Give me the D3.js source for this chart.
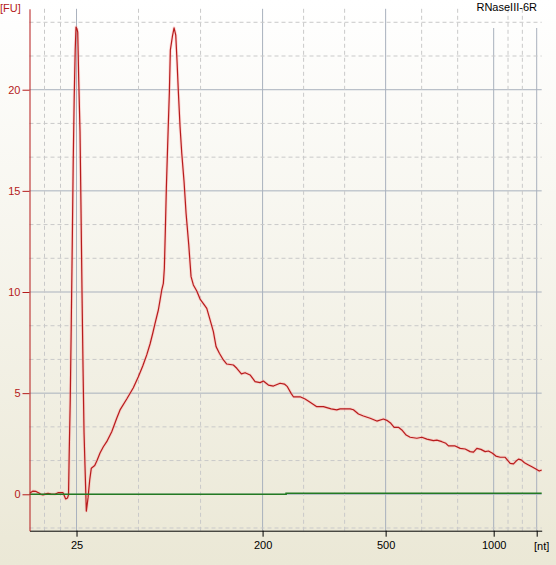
<!DOCTYPE html>
<html>
<head>
<meta charset="utf-8">
<script src="https://cdn.jsdelivr.net/npm/d3@7"></script>
<style>
    body { margin: 0; overflow: hidden; }
    svg { display: block; }
    text { font-family: "Liberation Sans", Arial, sans-serif; font-size: 11px; }
</style>
</head>
<body>
<svg id="chart"></svg>
<script>
// ladder peaks (migration time in s) and their sizes in nt
const ladderStart = 19.7;
const ladderTimes = [29.3, 66.5, 91.1, 112.7, 121.3];
const ladderSizes = [25, 200, 500, 1000, 2000];
const tickLabels = ['25', '200', '500', '1000', ''];
const fuTicks = [0, 5, 10, 15, 20];

// sample trace: [time s, FU]
const sampleTrace = [
    [20.0, 0.06], [20.6, 0.16], [21.2, 0.14], [21.8, 0.06], [22.2, -0.01], [22.6, -0.03],
    [23.0, 0.01], [23.6, 0.05], [24.2, 0.01], [25.0, 0.0], [25.6, 0.08], [26.6, 0.08],
    [27.14, -0.23], [27.5, -0.18], [27.7, -0.03], [27.74, 0.56], [27.84, 2.04], [28.04, 4.56],
    [28.24, 8.22], [28.44, 12.18], [28.64, 16.43], [28.84, 19.64], [29.04, 21.96], [29.2, 23.1],
    [29.4, 23.0], [29.54, 22.85], [29.74, 20.5], [30.0, 17.93], [30.2, 14.05], [30.4, 9.95],
    [30.6, 6.29], [30.8, 3.08], [31.0, 1.35], [31.14, 0.2], [31.26, -0.83], [31.4, -0.58],
    [31.6, -0.18], [31.94, 0.71], [32.26, 1.29], [32.94, 1.42], [33.4, 1.67], [34.0, 2.04],
    [34.66, 2.35], [35.34, 2.6], [36.34, 3.09], [37.34, 3.76], [38.0, 4.17], [39.34, 4.71],
    [40.66, 5.27], [41.66, 5.81], [42.54, 6.34], [43.34, 6.89], [44.0, 7.43], [44.54, 7.96],
    [45.0, 8.45], [45.66, 9.11], [46.0, 9.6], [46.34, 10.1], [46.66, 10.43], [46.86, 11.17],
    [47.06, 13.06], [47.26, 15.13], [47.46, 16.77], [47.66, 18.34], [47.86, 19.85], [48.06, 21.96],
    [48.46, 22.62], [48.8, 23.06], [49.14, 22.7], [49.4, 21.38], [49.66, 19.9], [50.0, 18.17],
    [50.34, 16.86], [50.8, 15.45], [51.2, 13.89], [51.74, 12.32], [52.2, 10.76], [52.66, 10.35],
    [53.34, 10.05], [54.0, 9.65], [54.66, 9.43], [55.34, 9.19], [56.0, 8.62], [56.66, 8.04],
    [57.2, 7.3], [57.86, 6.97], [58.66, 6.64], [59.34, 6.44], [60.66, 6.39], [61.34, 6.23],
    [62.26, 5.95], [63.0, 6.01], [64.0, 5.9], [65.0, 5.57], [66.0, 5.52], [66.66, 5.6],
    [67.66, 5.4], [68.66, 5.35], [70.0, 5.49], [70.86, 5.45], [71.46, 5.32], [72.2, 4.99],
    [72.66, 4.82], [74.0, 4.82], [75.0, 4.71], [76.0, 4.55], [77.34, 4.33], [78.66, 4.33],
    [80.2, 4.22], [81.34, 4.17], [82.0, 4.22], [84.0, 4.22], [84.66, 4.18], [85.66, 3.97],
    [86.66, 3.87], [88.0, 3.76], [89.34, 3.62], [90.66, 3.72], [91.46, 3.64], [92.14, 3.51],
    [92.8, 3.31], [93.66, 3.31], [94.34, 3.18], [95.2, 2.93], [96.0, 2.82], [97.34, 2.77],
    [98.34, 2.82], [99.34, 2.73], [100.66, 2.65], [101.34, 2.68], [102.34, 2.6], [103.14, 2.52],
    [103.66, 2.39], [105.0, 2.39], [106.0, 2.27], [107.0, 2.24], [108.0, 2.11], [108.66, 2.08],
    [109.34, 2.27], [110.14, 2.22], [111.0, 2.11], [111.66, 2.14], [112.46, 2.03], [113.14, 1.89],
    [114.0, 1.83], [115.0, 1.83], [115.54, 1.66], [116.0, 1.53], [116.66, 1.5], [117.14, 1.63],
    [117.66, 1.74], [118.2, 1.7], [118.86, 1.56], [119.66, 1.45], [120.34, 1.36], [121.14, 1.25],
    [121.8, 1.15], [122.3, 1.2]
];

// baseline trace
const baselineTimes = [19.9, 71.2, 71.2, 122.3];
const baselineFU = [0, 0, 0.05, 0.05];

const sampleName = 'RNaseIII-6R';

const width = 556;
const height = 565;
const plot = {left: 29.5, right: 541.7, top: 8.8, bottom: 530.7};
const axisRed = '#b51a1a';

const svg = d3.select('#chart')
    .attr('width', width)
    .attr('height', height);

const grad = svg.append('defs')
    .append('linearGradient')
    .attr('id', 'bg')
    .attr('gradientUnits', 'userSpaceOnUse')
    .attr('x1', 0).attr('y1', 0)
    .attr('x2', 0).attr('y2', height);
grad.append('stop').attr('offset', 0).attr('stop-color', '#ffffff');
grad.append('stop').attr('offset', 1).attr('stop-color', '#ebe8d6');

svg.append('rect')
    .attr('width', width)
    .attr('height', height)
    .attr('fill', 'url(#bg)');

const x = d3.scaleLinear()
    .domain([19.9, 122.3])
    .range([plot.left, plot.right]);
const y = d3.scaleLinear()
    .domain([-1.8, 24])
    .range([plot.bottom, plot.top]);

// minor grid positions: thirds between ladder peaks, 5/3 FU steps
const bounds = [ladderStart].concat(ladderTimes);
const minorTimes = [];
for (let i = 1; i < bounds.length; i++) {
    const a = bounds[i - 1], b = bounds[i];
    minorTimes.push(a + (b - a) / 3, a + 2 * (b - a) / 3);
}
const minorFU = d3.range(-1, 15).map(k => k * 5 / 3).filter((d, i) => i % 3 !== 1);

const grid = svg.append('g');

// solid grid
grid.selectAll('.hmajor')
    .data(fuTicks)
    .enter()
    .append('line')
    .attr('x1', plot.left).attr('x2', plot.right)
    .attr('y1', d => y(d)).attr('y2', d => y(d))
    .attr('stroke', '#a9b1bd');

grid.selectAll('.vmajor')
    .data(ladderTimes)
    .enter()
    .append('line')
    .attr('x1', d => x(d)).attr('x2', d => x(d))
    .attr('y1', plot.top).attr('y2', plot.bottom)
    .attr('stroke', '#a9b1bd');

// box behind the sample name hides the solid lines
svg.append('rect')
    .attr('x', 470)
    .attr('y', 0)
    .attr('width', plot.right - 470)
    .attr('height', 28)
    .attr('fill', 'url(#bg)');

// dashed grid
grid.raise();
const dashed = svg.append('g')
    .attr('stroke', '#c9c9c9')
    .attr('stroke-dasharray', '4,3');

dashed.selectAll('line.h')
    .data(minorFU)
    .enter()
    .append('line')
    .attr('x1', plot.left).attr('x2', plot.right)
    .attr('y1', d => y(d)).attr('y2', d => y(d));

dashed.selectAll('line.v')
    .data(minorTimes)
    .enter()
    .append('line')
    .attr('x1', d => x(d)).attr('x2', d => x(d))
    .attr('y1', plot.top).attr('y2', plot.bottom);

// keep solid grid under box, redraw order: solid, box, dashed
grid.lower();
svg.select('rect').lower();

svg.append('text')
    .attr('x', 537)
    .attr('y', 11)
    .attr('text-anchor', 'end')
    .attr('fill', '#000')
    .text(sampleName);

// traces
const line = d3.line()
    .x(d => x(d[0]))
    .y(d => y(d[1]));

svg.append('path')
    .datum(sampleTrace)
    .attr('d', line)
    .attr('fill', 'none')
    .attr('stroke', '#ff9c9c')
    .attr('stroke-width', 3)
    .attr('stroke-opacity', 0.35)
    .attr('stroke-linejoin', 'round');

svg.append('path')
    .datum(sampleTrace)
    .attr('d', line)
    .attr('fill', 'none')
    .attr('stroke', '#b71c1c')
    .attr('stroke-width', 1.2)
    .attr('stroke-linejoin', 'round');

svg.append('path')
    .datum(d3.zip(baselineTimes, baselineFU))
    .attr('d', line)
    .attr('fill', 'none')
    .attr('stroke', '#237a23')
    .attr('stroke-width', 1.6);

// x axis
const xAxis = svg.append('g')
    .attr('transform', `translate(0,${plot.bottom})`)
    .call(d3.axisBottom(x)
        .tickValues(ladderTimes)
        .tickFormat((d, i) => tickLabels[i])
        .tickSize(6)
        .tickSizeOuter(0)
        .tickPadding(5));
xAxis.selectAll('text')
    .attr('fill', '#000')
    .style('font-family', '"Liberation Sans", Arial, sans-serif')
    .style('font-size', '11px');
xAxis.selectAll('line, path').attr('stroke', '#000');

svg.append('text')
    .attr('x', plot.right)
    .attr('y', plot.bottom + 19)
    .attr('text-anchor', 'middle')
    .text('[nt]');

// y axis
const yAxis = svg.append('g')
    .attr('transform', `translate(${plot.left},0)`)
    .call(d3.axisLeft(y)
        .tickValues(fuTicks)
        .tickSize(7)
        .tickSizeOuter(0)
        .tickPadding(2));
yAxis.selectAll('text')
    .attr('fill', axisRed)
    .style('font-family', '"Liberation Sans", Arial, sans-serif')
    .style('font-size', '11px');
yAxis.selectAll('line, path').attr('stroke', axisRed);

svg.append('text')
    .attr('x', 0)
    .attr('y', 12)
    .attr('fill', axisRed)
    .text('[FU]');
</script>
</body>
</html>
